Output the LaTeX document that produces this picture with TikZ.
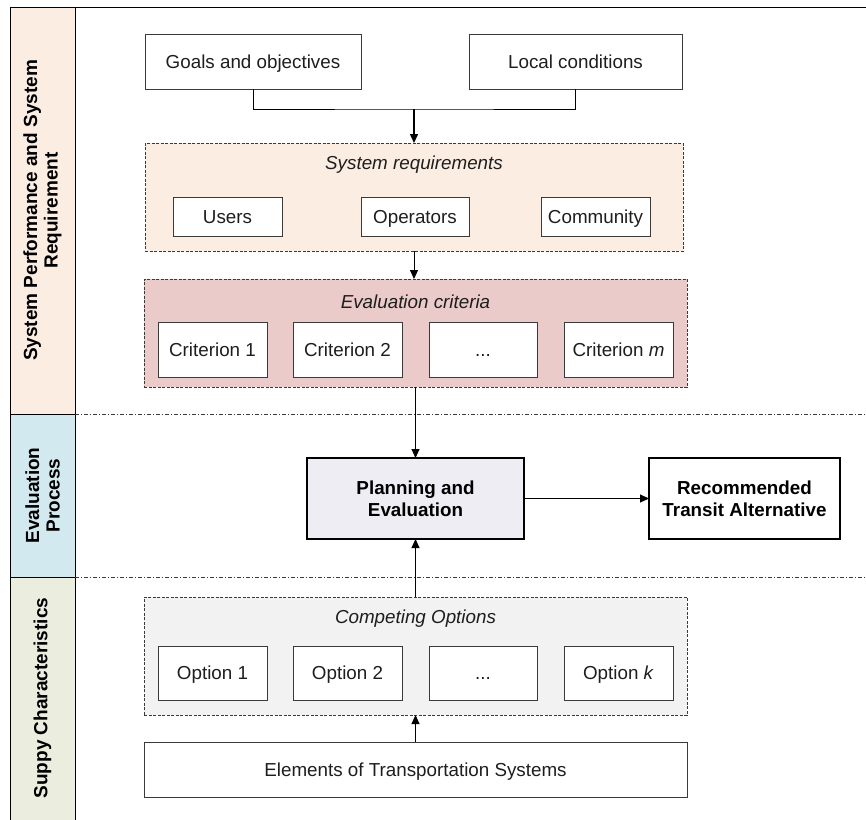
\documentclass[tikz,border=0pt]{standalone}
\usepackage{fontspec}
\setmainfont{Liberation Sans}
\usetikzlibrary{arrows.meta}

\definecolor{bandpeach}{HTML}{FCEDE3}
\definecolor{bandblue}{HTML}{D3E9F0}
\definecolor{bandgreen}{HTML}{EBEEDF}
\definecolor{reqfill}{HTML}{FCEDE3}
\definecolor{critfill}{HTML}{EBCACA}
\definecolor{optfill}{HTML}{F2F2F2}
\definecolor{planfill}{HTML}{EFEDF4}
\definecolor{edgegray}{HTML}{3A3A3A}
\definecolor{inkgray}{HTML}{1E1E1E}

\tikzset{
  x=1pt, y=-1pt,
  box/.style={draw=edgegray, fill=white, line width=0.9pt, inner sep=0pt, outer sep=0pt,
    align=center, text=inkgray, text height=15.5pt, text depth=2.5pt,
    font=\fontsize{18.8}{22}\selectfont},
  group/.style={draw=edgegray, dash pattern=on 3pt off 1.5pt, line width=0.8pt,
    inner sep=0pt, outer sep=0pt},
  grouptitle/.style={inner sep=0pt, text=inkgray, font=\itshape\fontsize{18.8}{22}\selectfont},
  keybox/.style={draw=black, line width=2pt, inner sep=0pt, outer sep=0pt, align=center,
    text=black, font=\bfseries\fontsize{18.8}{22}\selectfont},
  lanebox/.style={draw=black, line width=1pt, inner sep=0pt, outer sep=0pt,
    minimum width=65pt},
  lanelabel/.style={rotate=90, align=center, inner sep=0pt, text=black,
    font=\bfseries\fontsize{19}{20.5}\selectfont},
  lanesep/.style={draw=edgegray, dash pattern=on 4pt off 2pt on 1pt off 2pt, line width=0.8pt},
  link/.style={draw=black, line width=1pt, -{Triangle[length=9pt,width=8pt]}},
  plain/.style={draw=black, line width=1pt},
}

\begin{document}
\begin{tikzpicture}
\useasboundingbox (0,0) rectangle (866,819);

% swim lanes on the left
\node[lanebox, fill=bandpeach, minimum height=407pt] (lane1) at (42.5,210.5) {};
\node[lanebox, fill=bandblue,  minimum height=163pt] (lane2) at (42.5,495.5) {};
\node[lanebox, fill=bandgreen, minimum height=250pt] (lane3) at (42.5,702) {};
\node[lanelabel] (lab1) at (42.5,210.5) {System Performance and System\\Requirement};
\node[lanelabel] (lab2) at (42.5,495.5) {Evaluation\\Process};
\node[lanelabel] (lab3) at (42.5,698) {Suppy Characteristics};

% frame line and lane separators
\coordinate (topend) at (866,7);
\coordinate (sepAend) at (866,414);
\coordinate (sepBend) at (866,577);
\draw[plain] (lane1.north east) -- (topend);
\draw[lanesep] (lane1.south east) -- (sepAend);
\draw[lanesep] (lane2.south east) -- (sepBend);

% inputs
\node[box, minimum width=216pt, minimum height=55pt] (goals) at (253,61.5) {Goals and objectives};
\node[box, minimum width=213pt, minimum height=55pt] (local) at (575.5,61.5) {Local conditions};

% system requirements
\node[group, fill=reqfill, minimum width=538pt, minimum height=108pt] (sysreq) at (414,197) {};
\node[grouptitle] (sysreqtitle) at (414,165) {System requirements};
\node[box, minimum width=109pt, minimum height=39pt] (users) at (227.5,216.5) {Users};
\node[box, minimum width=108pt, minimum height=39pt] (operators) at (415,216.5) {Operators};
\node[box, minimum width=109pt, minimum height=39pt] (community) at (595.5,216.5) {Community};

% evaluation criteria
\node[group, fill=critfill, minimum width=543pt, minimum height=108pt] (evalcrit) at (415.5,333) {};
\node[grouptitle] (evaltitle) at (415.5,302) {Evaluation criteria};
\node[box, minimum width=109pt, minimum height=55pt] (crit1) at (212.5,349.5) {Criterion 1};
\node[box, minimum width=109pt, minimum height=55pt] (crit2) at (347.5,349.5) {Criterion 2};
\node[box, minimum width=108pt, minimum height=55pt] (critdots) at (483,349.5) {...};
\node[box, minimum width=109pt, minimum height=55pt] (critm) at (618.5,349.5) {Criterion \textit{m}};

% evaluation process
\node[keybox, fill=planfill, minimum width=217pt, minimum height=81pt] (planning) at (415.5,498.5) {Planning and\\Evaluation};
\node[keybox, fill=white, minimum width=191pt, minimum height=81pt] (recommend) at (744.5,498.5) {Recommended\\Transit Alternative};

% competing options
\node[group, fill=optfill, minimum width=543pt, minimum height=118pt] (options) at (415.5,656) {};
\node[grouptitle] (optionstitle) at (415.5,619) {Competing Options};
\node[box, minimum width=109pt, minimum height=54pt] (opt1) at (212.5,673) {Option 1};
\node[box, minimum width=109pt, minimum height=54pt] (opt2) at (347.5,673) {Option 2};
\node[box, minimum width=108pt, minimum height=54pt] (optdots) at (483,673) {...};
\node[box, minimum width=109pt, minimum height=54pt] (optk) at (618.5,673) {Option \textit{k}};

\node[box, minimum width=543pt, minimum height=55pt] (elements) at (415.5,769.5) {Elements of Transportation Systems};

% connectors
\coordinate (merge) at (414,109);
\draw[plain] (goals.south) |- (merge) -| (local.south);
\draw[link, line width=1.4pt] (merge) -- (sysreq.north);
\draw[link] (sysreq.south) -- (sysreq.south |- evalcrit.north);
\draw[link] (evalcrit.south) -- (planning.north);
\draw[link] (planning.east) -- (recommend.west);
\draw[link] (options.north) -- (planning.south);
\draw[link] (elements.north) -- (options.south);
\end{tikzpicture}
\end{document}
